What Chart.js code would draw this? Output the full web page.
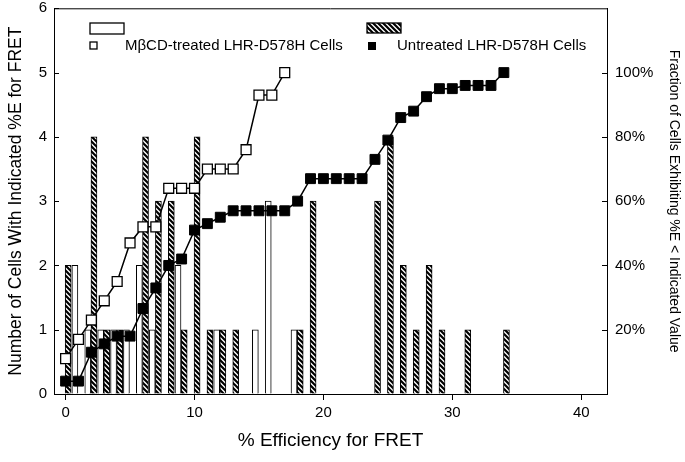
<!DOCTYPE html>
<html>
<head>
<meta charset="utf-8">
<script src="https://cdn.jsdelivr.net/npm/chart.js@4"></script>
<style>
  body { margin: 0; background: #fff; }
  canvas { display: block; }
</style>
</head>
<body>
<canvas id="fret" width="685" height="462"></canvas>
<script>
// histogram: % efficiency bins (left axis = number of cells)
const untreatedBins = [0, 2, 3, 4, 6, 7, 8, 9, 10, 11, 12, 13, 18, 19, 24, 25, 26, 27, 28, 29, 31, 34];
const untreatedCounts = [2, 4, 1, 1, 4, 3, 3, 1, 4, 1, 1, 1, 1, 3, 3, 4, 2, 1, 2, 1, 1, 1];
const treatedBins = [0, 1, 2, 3, 4, 5, 6, 8, 11, 14, 15, 17];
const treatedCounts = [2, 1, 1, 1, 1, 2, 1, 2, 1, 1, 3, 1];

// cumulative fraction (right axis, %)
const treatedCumX = [0, 1, 2, 3, 4, 5, 6, 7, 8, 9, 10, 11, 12, 13, 14, 15, 16, 17];
const treatedCum = [11, 17, 23, 29, 35, 47, 52, 52, 64, 64, 64, 70, 70, 70, 76, 93, 93, 100];
const untreatedCumX = [0, 1, 2, 3, 4, 5, 6, 7, 8, 9, 10, 11, 12, 13, 14, 15, 16, 17, 18, 19,
  20, 21, 22, 23, 24, 25, 26, 27, 28, 29, 30, 31, 32, 33, 34];
const untreatedCum = [4, 4, 13, 15.6, 18, 18, 26.6, 33, 40, 42, 51, 53, 55, 57, 57, 57, 57, 57, 60, 67,
  67, 67, 67, 67, 73, 79, 86, 88, 92.5, 95, 95, 96, 96, 96, 100];

const xTicks = [0, 10, 20, 30, 40];
const fractionTicks = [20, 40, 60, 80, 100];

const FONT = 'Liberation Sans, Arial, sans-serif';
// within each 1% bin the untreated bar sits left, the treated one right
const UNTREATED_SHIFT = 0.2;
const TREATED_SHIFT = 0.72;

function hatchPattern() {
  const c = document.createElement('canvas');
  c.width = 5; c.height = 5;
  const g = c.getContext('2d');
  g.fillStyle = '#fff';
  g.fillRect(0, 0, 5, 5);
  g.strokeStyle = '#000';
  g.lineWidth = 2.2;
  g.beginPath();
  g.moveTo(-1, -1); g.lineTo(6, 6);
  g.moveTo(-1, 4); g.lineTo(1, 6);
  g.moveTo(4, -1); g.lineTo(6, 1);
  g.stroke();
  return g.createPattern(c, 'repeat');
}
const HATCH = hatchPattern();

const pts = (xs, ys, dx = 0) => xs.map((x, i) => ({ x: x + dx, y: ys[i] }));

// fixed axis boxes so the plot area matches the original frame
const fixBox = (w, h) => s => {
  if (w) s.width = w;
  if (h) s.height = h;
  s.paddingTop = 0; s.paddingBottom = 0; s.paddingLeft = 0; s.paddingRight = 0;
};

// inward y ticks, top border and the legend block
const framePlugin = {
  id: 'frame',
  afterDraw(chart) {
    const { ctx, chartArea: a } = chart;
    const y = chart.scales.y, y1 = chart.scales.y1;
    ctx.save();
    ctx.strokeStyle = '#000';
    ctx.lineWidth = 1;
    ctx.beginPath();
    ctx.moveTo(a.left, a.top + 0.5); ctx.lineTo(a.right, a.top + 0.5);
    y.ticks.forEach(t => {
      const p = Math.round(y.getPixelForValue(t.value)) + 0.5;
      ctx.moveTo(a.left, p); ctx.lineTo(a.left + 5, p);
    });
    y1.ticks.forEach(t => {
      const p = Math.round(y1.getPixelForValue(t.value)) + 0.5;
      ctx.moveTo(a.right - 5, p); ctx.lineTo(a.right, p);
    });
    ctx.stroke();

    // legend
    ctx.lineWidth = 1.3;
    ctx.fillStyle = '#fff';
    ctx.fillRect(90, 23, 34, 11);
    ctx.strokeRect(90, 23, 34, 11);
    ctx.fillStyle = HATCH;
    ctx.fillRect(367, 23, 34, 10);
    ctx.strokeRect(367, 23, 34, 10);
    ctx.fillStyle = '#fff';
    ctx.fillRect(90, 42, 7, 7);
    ctx.strokeRect(90, 42, 7, 7);
    ctx.fillStyle = '#000';
    ctx.fillRect(368, 42, 8, 8);
    ctx.font = '15px ' + FONT;
    ctx.textBaseline = 'middle';
    ctx.fillText('M\u03B2CD-treated LHR-D578H Cells', 125, 46);
    ctx.fillText('Untreated LHR-D578H Cells', 397, 46);
    ctx.restore();
  }
};

const barStyle = {
  type: 'bar', order: 1, yAxisID: 'y', grouped: false,
  borderColor: '#000', borderWidth: 1,
  categoryPercentage: 1, barPercentage: 1, maxBarThickness: 6,
};

new Chart(document.getElementById('fret'), {
  data: {
    datasets: [
      {
        type: 'line', label: 'MβCD-treated LHR-D578H Cells',
        data: pts(treatedCumX, treatedCum), yAxisID: 'y1', order: 0,
        borderColor: '#000', borderWidth: 1.5,
        pointStyle: 'rect', pointRadius: 7,
        pointBackgroundColor: '#fff', pointBorderColor: '#000', pointBorderWidth: 1.3,
      },
      {
        type: 'line', label: 'Untreated LHR-D578H Cells',
        data: pts(untreatedCumX, untreatedCum), yAxisID: 'y1', order: 0,
        borderColor: '#000', borderWidth: 1.5,
        pointStyle: 'rect', pointRadius: 7,
        pointBackgroundColor: '#000', pointBorderColor: '#000', pointBorderWidth: 1,
      },
      {
        ...barStyle, label: 'Untreated',
        data: pts(untreatedBins, untreatedCounts, UNTREATED_SHIFT),
        backgroundColor: HATCH,
      },
      {
        ...barStyle, label: 'MβCD-treated',
        data: pts(treatedBins, treatedCounts, TREATED_SHIFT),
        backgroundColor: '#fff',
      },
    ],
  },
  options: {
    responsive: false,
    animation: false,
    layout: { padding: { top: 6 } },
    plugins: { legend: { display: false }, tooltip: { enabled: false } },
    scales: {
      x: {
        type: 'linear', min: -0.9, max: 42, offset: false,
        afterFit: fixBox(0, 68),
        afterBuildTicks: s => { s.ticks = xTicks.map(v => ({ value: v })); },
        grid: { drawOnChartArea: false, offset: false, tickLength: 6, color: '#000' },
        border: { color: '#000', width: 1 },
        ticks: { color: '#000', padding: 4, font: { family: FONT, size: 15 } },
        title: {
          display: true, text: '% Efficiency for FRET', color: '#000',
          font: { family: FONT, size: 19 }, padding: { top: 0, bottom: 10 },
        },
      },
      y: {
        position: 'left', min: 0, max: 6,
        afterFit: fixBox(54, 0),
        ticks: { stepSize: 1, color: '#000', padding: 7, font: { family: FONT, size: 15 } },
        grid: { drawOnChartArea: false, drawTicks: false },
        border: { color: '#000', width: 1 },
        title: {
          display: true, text: 'Number of Cells With Indicated %E for FRET', color: '#000',
          font: { family: FONT, size: 17.5 }, padding: { top: 6, bottom: 0 },
        },
      },
      y1: {
        position: 'right', min: 0, max: 120,
        afterFit: fixBox(78, 0),
        afterBuildTicks: s => { s.ticks = fractionTicks.map(v => ({ value: v })); },
        ticks: { color: '#000', padding: 8, font: { family: FONT, size: 15 }, callback: v => v + '%' },
        grid: { drawOnChartArea: false, drawTicks: false },
        border: { color: '#000', width: 1 },
        title: {
          display: true, text: 'Fraction of Cells Exhibiting %E < Indicated Value', color: '#000',
          font: { family: FONT, size: 14 }, padding: { top: 3, bottom: 0 },
        },
      },
    },
  },
  plugins: [framePlugin],
});
</script>
</body>
</html>
